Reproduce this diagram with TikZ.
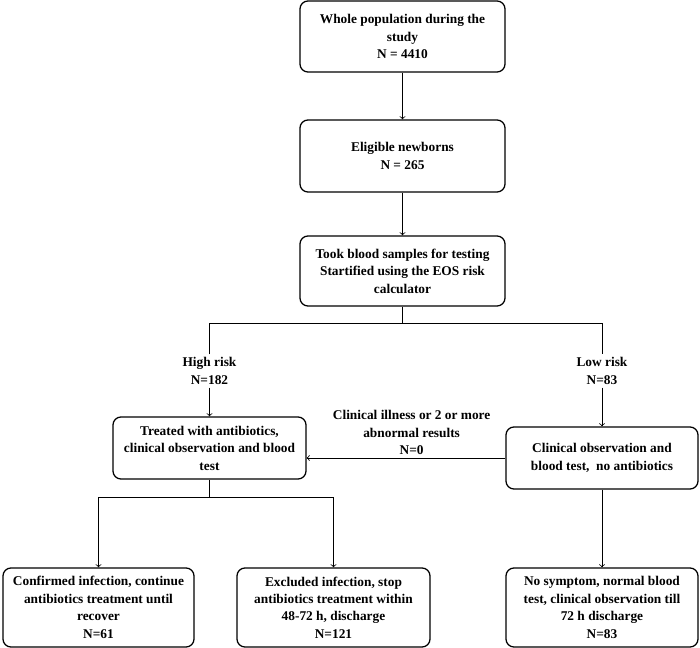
\documentclass[tikz,border=0pt]{standalone}
\usepackage{fontspec}
\setmainfont{Liberation Serif}

\begin{document}
\begin{tikzpicture}[x=0.025cm, y=-0.025cm, line width=0.6pt]
        \tikzstyle{every node}=[font=\bfseries\fontsize{9.5}{12.4}\selectfont, align=center, inner sep=2pt]
        \tikzstyle{box}=[draw, line width=0.9pt, rounded corners=0.2cm]
        \tikzstyle{topbox}=[box, minimum width=5.125cm]
        \tikzstyle{lowbox}=[box, minimum width=4.8cm, minimum height=1.975cm]
        \useasboundingbox (0,0) rectangle (700,648);
        \node[topbox, minimum height=1.775cm] (pop) at (402.5,36.5) {Whole population during the\\ study\\ N = 4410};
        \node[topbox, minimum height=1.8cm] (elig) at (402.5,156) {Eligible newborns\\ N = 265};
        \node[topbox, minimum height=1.75cm] (blood) at (402.5,271) {Took blood samples for testing\\ Startified using the EOS risk\\ calculator};
        \node (high) at (209.5,371) {High risk\\ N=182};
        \node (low) at (602,371) {Low risk\\ N=83};
        \node[box, minimum width=4.825cm, minimum height=1.55cm] (treat) at (209.5,448) {Treated with antibiotics,\\ clinical observation and blood\\ test};
        \node[box, minimum width=4.8cm, minimum height=1.55cm] (obs) at (602,458) {Clinical observation and\\ blood test,\ \ no antibiotics};
        \node[lowbox, minimum width=4.775cm] (conf) at (98.5,607.5) {Confirmed infection, continue\\ antibiotics treatment until\\ recover\\ N=61};
        \node[lowbox, minimum width=4.825cm] (excl) at (333.5,607.5) {Excluded infection, stop\\ antibiotics treatment within\\ 48-72 h, discharge\\ N=121};
        \node[lowbox] (nosym) at (602,607.5) {No symptom, normal blood\\ test, clinical observation till\\ 72 h discharge\\ N=83};
        % main column
        \draw[->] (pop) -- (elig);
        \draw[->] (elig) -- (blood);
        \draw (blood.south) -- ++(0,17) coordinate (split);
        \draw (high.north) |- (split) -| (low.north);
        \draw[->] (high.south) -- (treat.north);
        \draw[->] (low.south) -- (obs.north);
        % low risk moved up to treatment
        \draw[->] (obs.west) -- (obs.west -| treat.east) node[midway, above, xshift=4pt] (crit) {Clinical illness or 2 or more\\ abnormal results\\ N=0};
        % outcomes
        \draw (treat.south) -- ++(0,18) coordinate (fork);
        \draw[->] (fork) -| (conf.north);
        \draw[->] (fork) -| (excl.north);
        \draw[->] (obs) -- (nosym);
    \end{tikzpicture}
\end{document}
